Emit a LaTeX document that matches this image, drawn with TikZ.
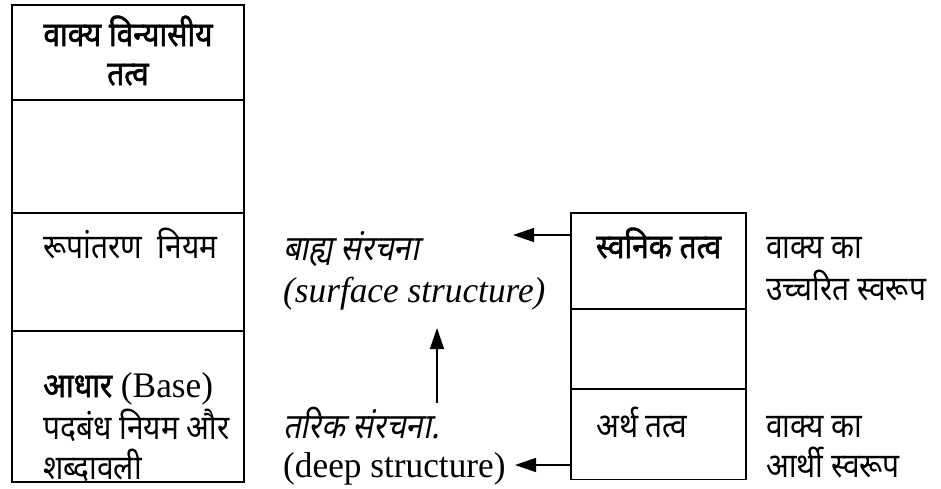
\documentclass[tikz,border=0pt]{standalone}
\usepackage{fontspec}
\setmainfont[FakeStretch=0.98]{Liberation Serif}
\newfontfamily\hin[Script=Devanagari,FakeStretch=0.88]{Noto Sans}
\newfontfamily\hinb[Script=Devanagari,FakeBold=1.6,FakeStretch=0.88]{Noto Sans}
\newfontfamily\hinit[Script=Devanagari,FakeSlant=0.2,FakeStretch=0.88]{Noto Sans}
\usetikzlibrary{arrows.meta}
\begin{document}
\begin{tikzpicture}[x=1pt,y=-1pt,
  cell/.style={draw, line width=1.3pt, inner sep=0pt},
  lcell/.style={cell, minimum width=232pt},
  rcell/.style={cell, minimum width=175pt},
  hl/.style={anchor=base west, inner sep=0pt, font=\hin\fontsize{34}{38}\selectfont},
  hlb/.style={anchor=base west, inner sep=0pt, font=\hinb\fontsize{34}{38}\selectfont},
  hli/.style={anchor=base west, inner sep=0pt, font=\hinit\fontsize{35}{38}\selectfont},
  en/.style={anchor=base west, inner sep=0pt, font=\fontsize{36}{40}\selectfont},
  arr/.style={line width=1.4pt, -{Triangle[length=21pt,width=14pt]}}]
\useasboundingbox (0,0) rectangle (941,488);
% left column
\node[lcell, minimum height=95pt]  (L1) at (128,52.5) {};
\node[lcell, minimum height=113pt] (L2) at (128,156.5) {};
\node[lcell, minimum height=118pt] (L3) at (128,272) {};
\node[lcell, minimum height=151pt] (L4) at (128,406.5) {};
% right column
\node[rcell, minimum height=96pt] (R1) at (658.5,261) {};
\node[rcell, minimum height=80pt] (R2) at (658.5,349) {};
\node[rcell, minimum height=90pt] (R3) at (658.5,434.5) {};
% texts left
\node[hlb, anchor=base] (t1) at (128,46) {वाक्य विन्यासीय};
\node[hlb, anchor=base] (t2) at (128,85) {तत्व};
\node[hl] (t3) at (43,258) {रूपांतरण\ \ नियम};
\node[anchor=base west, inner sep=0pt, font=\fontsize{36}{40}\selectfont] (t4) at (43,397) {{\hinb\fontsize{34}{38}\selectfont आधार} (Base)};
\node[hl] (t5) at (43,439) {पदबंध नियम और};
\node[hl] (t6) at (43,479) {शब्दावली};
% middle
\node[hli] (m1) at (283,260) {बाह्य संरचना};
\node[en, font=\itshape\fontsize{36}{40}\selectfont] (m2) at (283,302) {(surface structure)};
\node[hli] (m3) at (283,438) {तरिक संरचना.};
\node[en] (m4) at (283,477) {(deep structure)};
% right
\node[hlb] (r1) at (596,258) {स्वनिक तत्व};
\node[hl] (r2) at (596,437) {अर्थ तत्व};
\node[hl] (s1) at (766,258) {वाक्य का};
\node[hl] (s2) at (766,300) {उच्चरित स्वरूप};
\node[hl] (s3) at (766,437) {वाक्य का};
\node[hl] (s4) at (766,477) {आर्थी स्वरूप};
% arrows
\coordinate (a1) at (513,235);
\coordinate (a2) at (515,465);
\coordinate (v1) at (437,403);
\coordinate (v2) at (437,328);
\draw[arr] (R1.west |- a1) -- (a1);
\draw[arr] (R3.west |- a2) -- (a2);
\draw[arr] (v1) -- (v2);
\end{tikzpicture}
\end{document}
